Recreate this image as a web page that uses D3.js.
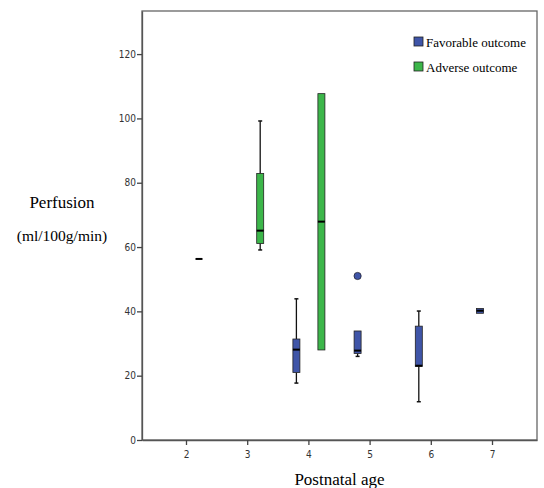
<!DOCTYPE html>
<html>
<head>
<meta charset="utf-8">
<script src="https://cdn.jsdelivr.net/npm/d3@7"></script>
<style>
  body { margin: 0; background: #fff; }
  svg { display: block; }
  .serif { font-family: "Liberation Serif", "Times New Roman", "DejaVu Serif", serif; }
</style>
</head>
<body>
<svg width="544" height="488"></svg>
<script>
// categories and groups
const ages = ["2", "3", "4", "5", "6", "7"];
const groups = ["Favorable outcome", "Adverse outcome"];

// box stats per group: [age, min, q1, median, q3, max]
const favorableStats = [
  ["4", 17.7, 21.0, 28.1, 31.4, 43.9],
  ["5", 26.0, 26.9, 27.8, 33.9, 33.9],
  ["6", 11.9, 22.9, 23.1, 35.4, 40.1],
  ["7", 39.4, 39.4, 40.2, 40.9, 40.9]
];
const adverseStats = [
  ["2", 56.3, 56.3, 56.3, 56.3, 56.3],
  ["3", 59.1, 61.1, 65.1, 82.9, 99.2],
  ["4", 28.0, 28.0, 67.9, 107.7, 107.7]
];
// outliers: [age, value]
const favorableOutliers = [["5", 51.0]];
const adverseOutliers = [];

const yTicks = [0, 20, 40, 60, 80, 100, 120];

const svg = d3.select("svg");
const margin = { top: 11, right: 7, bottom: 48, left: 142 };
const width = +svg.attr("width") - margin.left - margin.right;
const height = +svg.attr("height") - margin.top - margin.bottom;
const chart = svg.append("g").attr("transform", `translate(${margin.left},${margin.top})`);

const color = d3.scaleOrdinal().domain(groups).range(["#3f55a8", "#3cb64a"]);

const x0 = d3.scaleBand().domain(ages).range([0, width]).paddingInner(0).paddingOuter(0.227);
const x1 = d3.scaleBand().domain(groups).range([0, x0.bandwidth()]).paddingInner(0.72).paddingOuter(0.584);
const y = d3.scaleLinear().domain([0, 133.4]).range([height, 0]);

const toBox = (rows, g) => rows.map(r => ({ age: r[0], min: r[1], q1: r[2], med: r[3], q3: r[4], max: r[5], group: g }));
const boxes = toBox(favorableStats, groups[0]).concat(toBox(adverseStats, groups[1]));
const outliers = favorableOutliers.map(d => ({ age: d[0], v: d[1], group: groups[0] }))
  .concat(adverseOutliers.map(d => ({ age: d[0], v: d[1], group: groups[1] })));

// frame
chart.append("rect")
  .attr("width", width).attr("height", height)
  .attr("fill", "none").attr("stroke", "#666").attr("stroke-width", 1.3);

// axes
const yAxis = chart.append("g")
  .call(d3.axisLeft(y).tickValues(yTicks).tickSize(5).tickSizeOuter(0));
const xAxis = chart.append("g")
  .attr("transform", `translate(0,${height})`)
  .call(d3.axisBottom(x0).tickSize(5).tickSizeOuter(0));
[yAxis, xAxis].forEach(a => {
  a.select(".domain").attr("stroke", "#555").attr("stroke-width", 1.3);
  a.selectAll(".tick line").attr("stroke", "#444").attr("stroke-width", 1.3);
  a.selectAll(".tick text")
    .attr("font-family", "'DejaVu Sans Condensed', 'Liberation Sans', sans-serif")
    .attr("font-size", "10px").attr("fill", "#333");
});
yAxis.selectAll(".tick text").attr("x", -6);
xAxis.selectAll(".tick text").attr("y", 11);

const bw = 7;
const cx = d => x0(d.age) + x1(d.group) + x1.bandwidth() / 2;

const bg = chart.selectAll("g.box").data(boxes).enter().append("g").attr("class", "box");

// whiskers
bg.append("line")
  .attr("x1", cx).attr("x2", cx)
  .attr("y1", d => y(d.max)).attr("y2", d => y(d.q3))
  .attr("stroke", "#111").attr("stroke-width", 1.3);
bg.append("line")
  .attr("x1", cx).attr("x2", cx)
  .attr("y1", d => y(d.q1)).attr("y2", d => y(d.min))
  .attr("stroke", "#111").attr("stroke-width", 1.3);
// whisker caps
bg.filter(d => d.max > d.q3).append("line")
  .attr("x1", d => cx(d) - 2).attr("x2", d => cx(d) + 2)
  .attr("y1", d => y(d.max)).attr("y2", d => y(d.max))
  .attr("stroke", "#111").attr("stroke-width", 1.5);
bg.filter(d => d.min < d.q1).append("line")
  .attr("x1", d => cx(d) - 2).attr("x2", d => cx(d) + 2)
  .attr("y1", d => y(d.min)).attr("y2", d => y(d.min))
  .attr("stroke", "#111").attr("stroke-width", 1.5);

// boxes
bg.append("rect")
  .attr("x", d => cx(d) - bw / 2)
  .attr("y", d => y(d.q3))
  .attr("width", bw)
  .attr("height", d => y(d.q1) - y(d.q3))
  .attr("fill", d => color(d.group))
  .attr("stroke", "#222").attr("stroke-width", 0.8);

// medians
bg.append("line")
  .attr("x1", d => cx(d) - bw / 2).attr("x2", d => cx(d) + bw / 2)
  .attr("y1", d => y(d.med)).attr("y2", d => y(d.med))
  .attr("stroke", "#000").attr("stroke-width", 2);

// outliers
chart.selectAll("circle.out").data(outliers).enter().append("circle")
  .attr("class", "out")
  .attr("cx", d => x0(d.age) + x1(d.group) + x1.bandwidth() / 2)
  .attr("cy", d => y(d.v))
  .attr("r", 3.6)
  .attr("fill", d => color(d.group))
  .attr("stroke", "#223").attr("stroke-width", 0.8);

// axis labels
svg.append("text").attr("class", "serif")
  .attr("x", 62).attr("y", 208)
  .attr("text-anchor", "middle")
  .attr("font-size", "17px")
  .text("Perfusion");
svg.append("text").attr("class", "serif")
  .attr("x", 62).attr("y", 241)
  .attr("text-anchor", "middle")
  .attr("font-size", "15.5px")
  .text("(ml/100g/min)");
svg.append("text").attr("class", "serif")
  .attr("x", margin.left + width / 2).attr("y", 485)
  .attr("text-anchor", "middle")
  .attr("font-size", "17px")
  .text("Postnatal age");

// legend
const legend = svg.append("g").attr("transform", "translate(414,37)");
groups.forEach((g, i) => {
  const row = legend.append("g").attr("transform", `translate(0, ${i * 25})`);
  row.append("rect")
    .attr("width", 9).attr("height", 9)
    .attr("fill", color(g)).attr("stroke", "#222").attr("stroke-width", 0.8);
  row.append("text").attr("class", "serif")
    .attr("x", 12).attr("y", 9.5)
    .attr("font-size", "13px")
    .text(g);
});
</script>
</body>
</html>
